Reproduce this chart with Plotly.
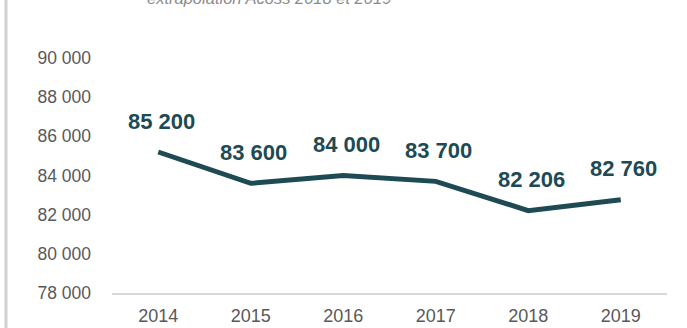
import plotly.graph_objects as go

years = ["2014", "2015", "2016", "2017", "2018", "2019"]
values = [85200, 83600, 84000, 83700, 82206, 82760]
labels = ["85 200", "83 600", "84 000", "83 700", "82 206", "82 760"]
ytick_vals = [78000, 80000, 82000, 84000, 86000, 88000, 90000]
ytick_text = ["78 000", "80 000", "82 000", "84 000", "86 000", "88 000", "90 000"]
title_text = "extrapolation Acoss 2018 et 2019"

line_color = "#1e4a54"
FONT = "Liberation Sans, Arial, sans-serif"

W, H = 687, 328
L, R, T, B = 112, 20, 58, 35
pw = W - L - R
ph = H - T - B

fig = go.Figure()
fig.add_trace(go.Scatter(
    x=list(range(len(years))), y=values, mode="lines",
    line=dict(color=line_color, width=5),
    hoverinfo="skip", showlegend=False,
))

for i, (y, t) in enumerate(zip(values, labels)):
    fig.add_annotation(
        x=i, y=y, text="<b>%s</b>" % t, showarrow=False,
        xref="x", yref="y", yanchor="middle", yshift=31, xshift=3,
        font=dict(family=FONT, size=22, color=line_color),
    )

fig.add_annotation(
    x=(269 - L) / pw, xref="paper", y=(H - B + 2) / ph, yref="paper",
    xanchor="center", yanchor="middle",
    text="<i>%s</i>" % title_text, showarrow=False,
    font=dict(family=FONT, size=16.5, color="#8c8c8c"),
)

fig.add_shape(
    type="line", xref="paper", yref="paper",
    x0=(6 - L) / pw, x1=(6 - L) / pw,
    y0=(H - B - H) / ph, y1=(H - B + 5) / ph,
    line=dict(color="#cfcfcf", width=3),
)

fig.update_layout(
    width=W, height=H,
    margin=dict(l=L, r=R, t=T, b=B, autoexpand=False),
    plot_bgcolor="white", paper_bgcolor="white",
    font=dict(family=FONT),
    xaxis=dict(
        showgrid=False, zeroline=False, automargin=False,
        showline=True, linecolor="#d9d9d9", linewidth=1.5,
        tickvals=list(range(len(years))), ticktext=years,
        tickfont=dict(size=18, color="#595959"), ticks="",
        range=[-0.5, 5.5], ticklabelstandoff=6,
    ),
    yaxis=dict(
        range=[78000, 90000], showgrid=False, zeroline=False, showline=False,
        automargin=False,
        tickvals=ytick_vals, ticktext=ytick_text,
        tickfont=dict(size=17.5, color="#595959"), ticks="",
        ticklabelstandoff=20,
    ),
)

fig.write_html("out.html")
